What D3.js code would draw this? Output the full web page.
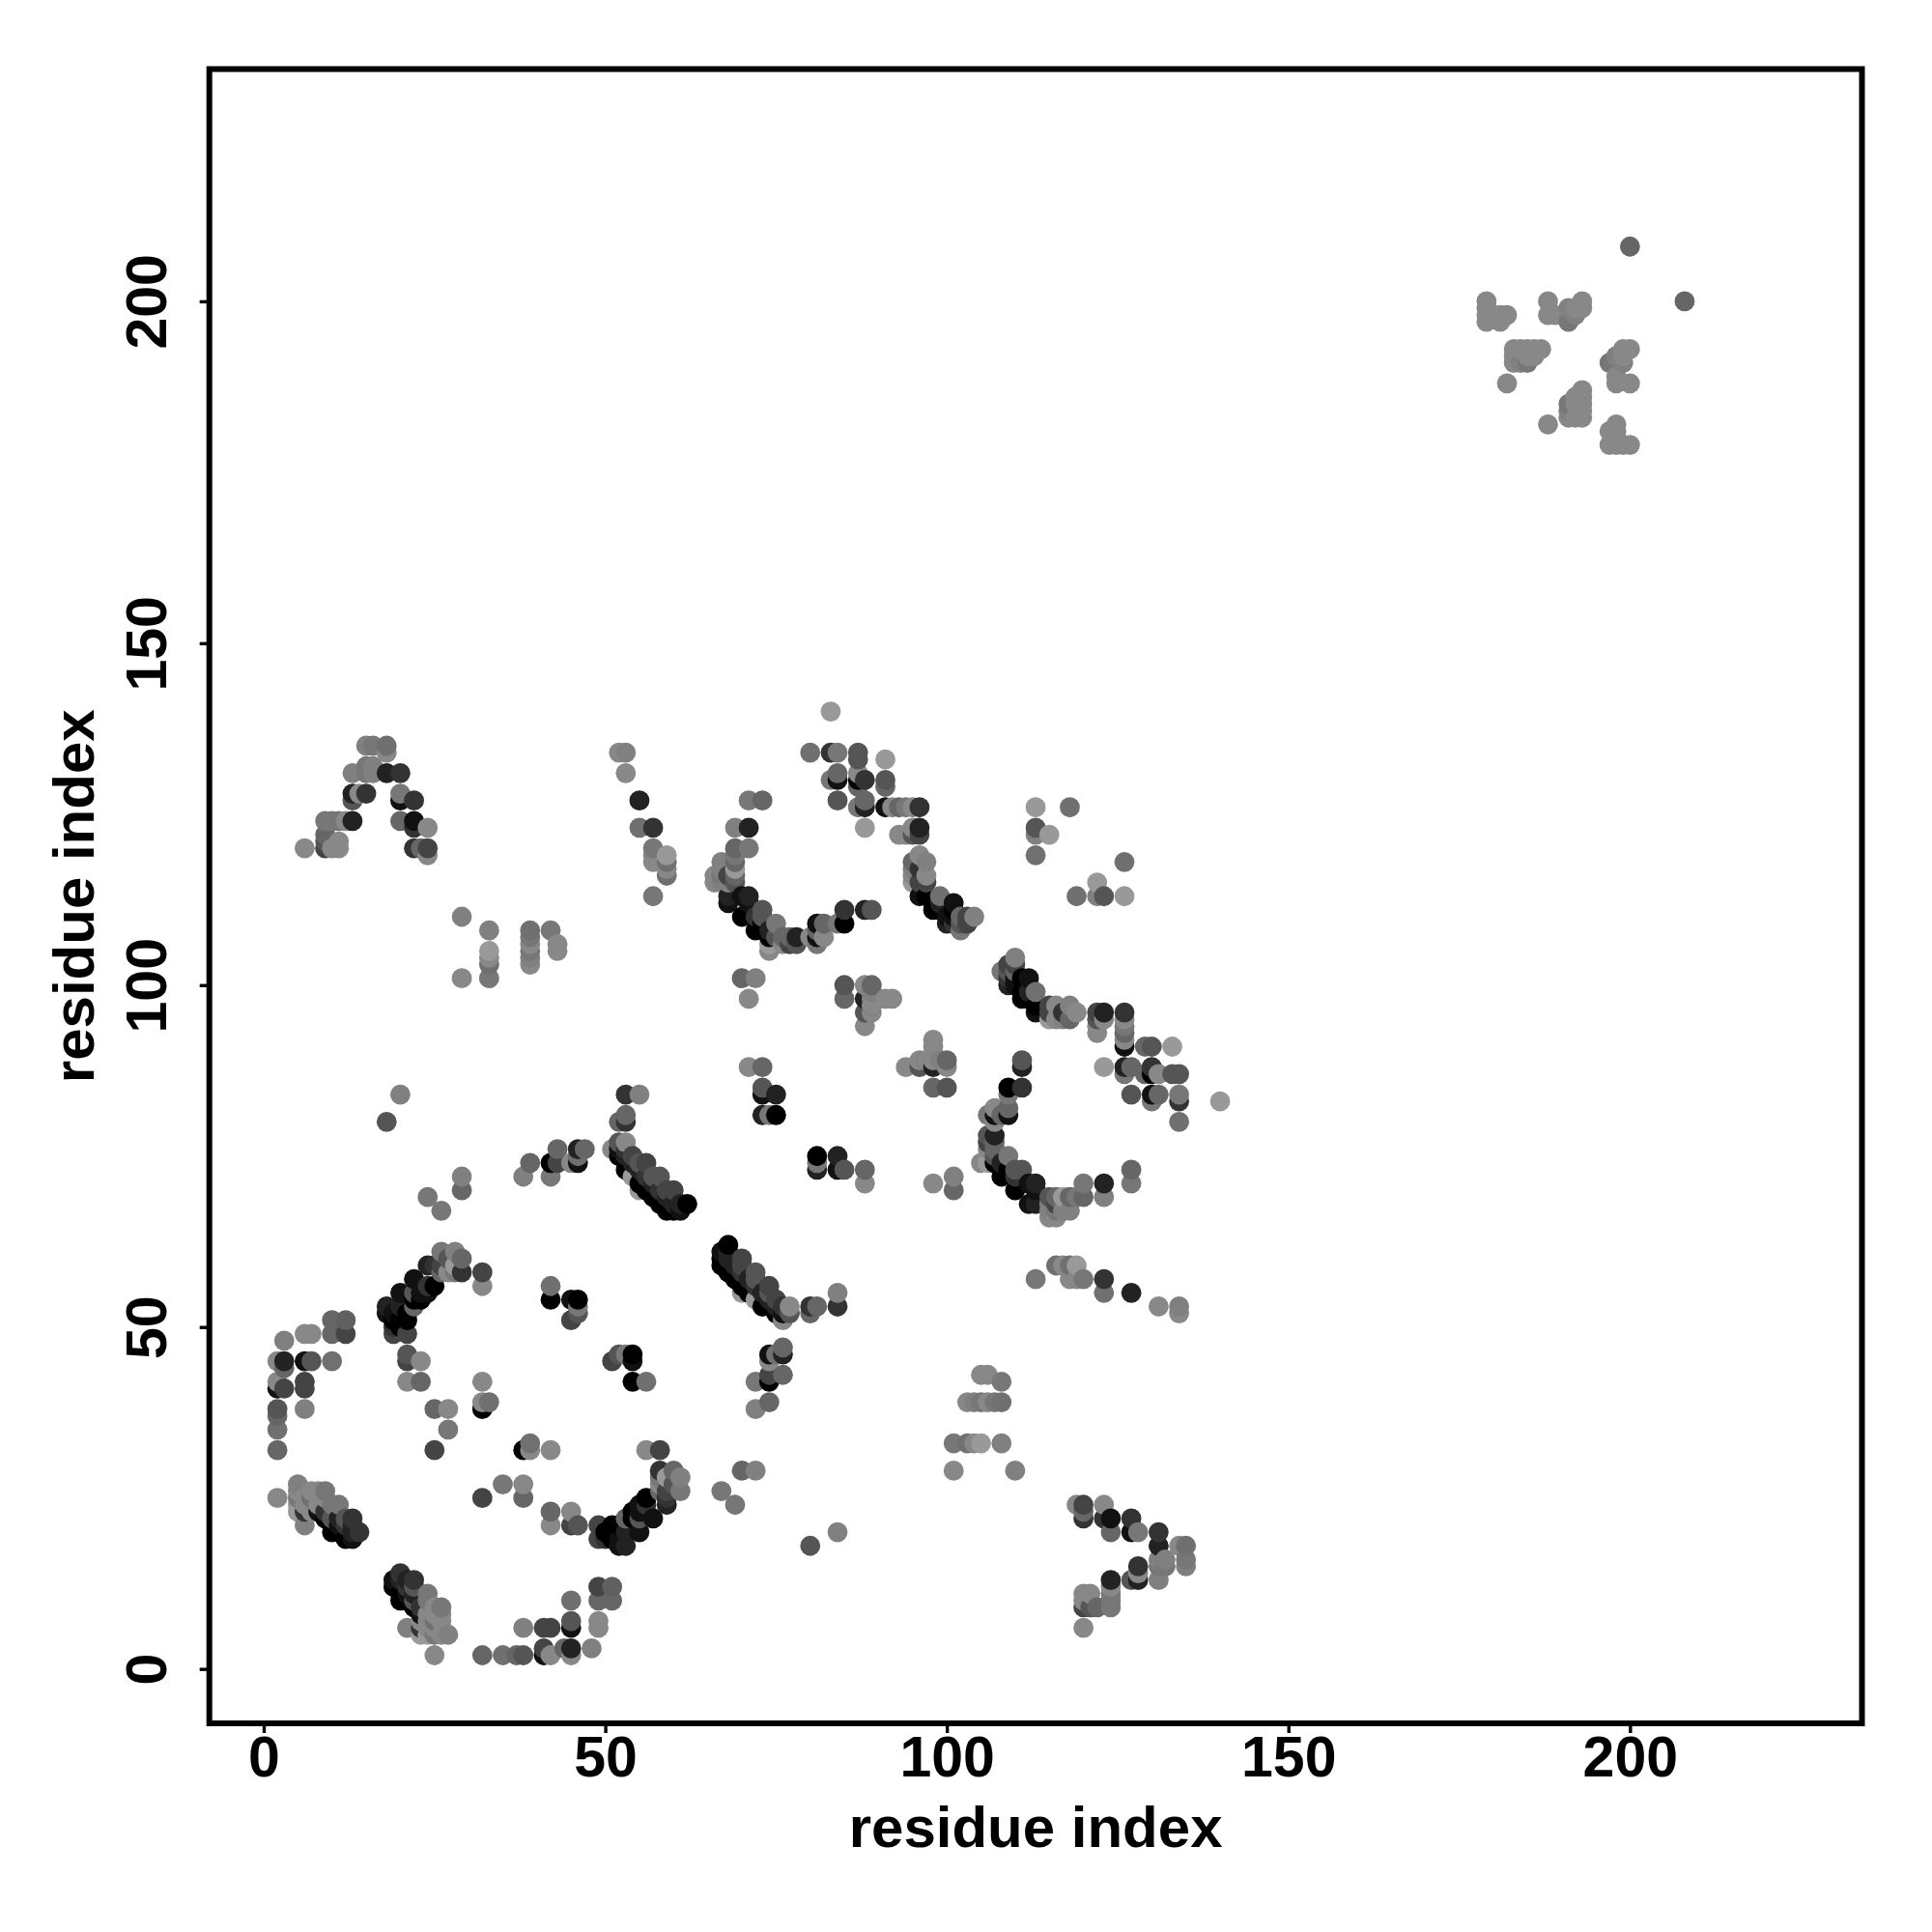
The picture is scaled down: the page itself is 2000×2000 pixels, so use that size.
<!DOCTYPE html>
<html><head><meta charset="utf-8">
<script src="https://cdn.jsdelivr.net/npm/d3@7"></script>
<style>html,body{margin:0;padding:0;background:#fff}svg{display:block}</style>
</head><body><div id="chart"></div>
<script>
// Contacts as [residue i, residue j, grey level]; the map is symmetric.
const tickLabels=[0,50,100,150,200];
const axisLabel="residue index";
const cornerContacts=[[2,25,136],[2,32,102],[2,35,112],[2,37,102],[2,38,85],[2,41,17],[2,42,136],[2,45,136],[3,41,68],[3,44,102],[3,45,34],[3,48,128],[6,38,128],[6,41,68],[6,42,68],[6,45,17],[7,45,85],[10,45,112],[6,49,136],[7,49,136],[10,49,102],[12,49,68],[10,51,102],[12,51,96]];
const strandContacts=[[5,23,153],[5,24,153],[5,25,119],[5,26,136],[5,27,128],[6,21,128],[6,23,51],[6,24,136],[6,25,136],[7,23,136],[7,24,136],[7,25,112],[7,26,136],[8,23,17],[8,24,136],[8,25,136],[8,26,136],[9,22,0],[9,23,51],[9,25,136],[9,26,119],[10,20,0],[10,21,0],[10,22,85],[10,24,119],[11,20,0],[11,21,17],[11,22,34],[11,24,119],[12,19,0],[12,21,51],[12,22,85],[13,19,17],[13,20,34],[13,21,34],[13,22,51],[14,20,51]];
const arcContacts=[[18,53,34],[18,52,17],[19,52,17],[19,50,51],[19,49,68],[19,51,0],[20,55,17],[20,53,34],[20,51,0],[20,50,0],[21,52,0],[21,51,0],[21,49,68],[22,57,17],[22,55,85],[22,54,0],[22,53,102],[23,54,0],[23,55,17],[24,59,34],[24,56,51],[24,55,17],[25,59,51],[25,56,0],[26,61,119],[26,59,68],[26,58,102],[27,60,85],[27,58,136],[28,61,128],[28,59,153],[28,58,119],[29,60,102],[29,58,51],[32,58,68],[32,56,136]];
const innerContacts=[[21,42,136],[21,45,68],[21,46,85],[23,42,102],[23,45,136],[25,32,68],[25,38,102],[27,35,119],[27,38,136],[32,38,0],[32,39,136],[33,39,112],[32,42,136],[42,54,0],[42,56,112],[45,51,68],[45,54,17],[46,52,85],[46,53,119],[46,54,0]];
const midContacts=[[18,80,85],[20,84,128],[24,69,119],[26,67,119],[29,70,102],[29,72,128],[38,72,128],[39,74,102],[42,72,119],[42,74,0],[43,74,68],[43,76,102],[45,74,136],[46,74,17],[46,75,112],[46,76,34],[47,76,102]];
const diagonalOne=[[51,76,136],[52,77,85],[53,77,136],[52,76,17],[53,76,51],[52,75,0],[54,75,68],[53,75,34],[54,74,34],[55,74,85],[56,74,68],[53,73,0],[55,73,34],[54,72,153],[56,72,51],[57,72,85],[58,72,85],[55,71,0],[57,71,34],[55,70,153],[56,70,0],[58,70,51],[59,70,68],[60,70,68],[57,69,0],[59,69,34],[58,68,0],[60,68,34],[61,68,34],[62,68,0],[59,67,0],[60,67,0],[61,67,17],[52,80,102],[53,80,51],[53,81,102],[53,84,51],[55,84,128]];
const farContacts=[[6,120,136],[9,120,68],[10,120,136],[11,120,136],[11,121,136],[9,121,85],[9,122,102],[9,124,119],[10,124,119],[11,124,119],[12,124,136],[13,124,34],[13,127,85],[13,128,34],[14,128,136],[15,128,51],[13,131,128],[15,131,119],[16,131,128],[15,132,119],[16,132,128],[18,131,34],[20,131,51],[15,135,128],[16,135,119],[18,134,136],[18,135,112],[20,127,17],[20,128,119],[22,127,51],[20,124,102],[22,124,17],[22,123,51],[24,123,136],[22,120,51],[23,120,102],[24,120,68],[24,119,136]];
const sheetContacts=[[29,101,136],[29,110,128],[33,101,119],[33,103,112],[33,104,136],[33,105,153],[33,108,128],[39,103,136],[39,104,128],[39,105,119],[39,106,136],[39,107,119],[39,108,112],[42,108,119],[43,105,136],[43,106,136]];
const loopContacts=[[52,134,136],[53,134,128],[53,131,136],[55,127,34],[55,123,112],[57,123,51],[57,113,119],[57,118,136],[57,119,136],[57,120,119],[59,116,112],[59,117,136],[59,118,112],[59,119,153]];
const arcTwoUpper=[[66,115,136],[66,116,136],[67,115,128],[67,116,119],[67,117,128],[67,118,128],[68,112,17],[68,113,34],[68,115,128],[68,116,68],[69,115,85],[69,116,102],[69,117,153],[69,118,102],[69,119,119],[69,120,102],[69,123,128],[70,110,0],[70,113,17],[71,112,17],[71,113,34],[71,120,119],[71,123,34],[71,127,119],[73,127,102]];
const arcTwoLower=[[72,108,0],[72,110,51],[73,109,0],[73,110,85],[73,111,85],[74,105,136],[74,106,153],[74,107,0],[74,108,34],[75,107,85],[75,109,119],[76,106,136],[76,107,102],[77,106,68],[77,107,102],[78,106,85],[78,107,34],[80,107,136],[81,106,119],[81,107,17],[81,108,102],[81,109,17],[82,107,136],[82,109,102],[84,109,119],[85,109,0],[85,111,51],[88,111,34],[89,111,85]];
const blockContacts=[[70,101,102],[72,101,128],[71,98,136],[71,88,136],[73,88,102],[73,85,85],[73,84,17],[75,84,34],[73,81,34],[74,81,119],[75,81,0],[85,98,102],[85,100,85],[88,94,136],[88,96,85],[88,98,34],[88,100,136],[89,96,136],[89,97,68],[89,98,136],[89,99,136],[89,100,102],[91,98,136],[92,98,136],[97,89,136],[99,89,128]];
const topContacts=[[80,134,112],[83,130,119],[83,134,51],[83,140,153],[84,127,85],[84,130,17],[84,131,102],[84,134,119],[87,126,119],[87,129,102],[87,130,0],[87,131,136],[87,133,85],[87,134,85],[88,123,153],[88,126,34],[88,127,102],[88,130,51],[91,126,17],[91,129,102],[91,130,85],[91,133,153],[92,126,136],[93,122,136],[93,126,102],[94,122,136],[94,126,119],[95,122,85],[95,123,136],[95,126,136],[96,122,68],[96,123,34],[96,126,51]];
const helixContacts=[[95,115,153],[95,116,136],[95,117,128],[95,118,102],[96,115,68],[96,117,51],[96,119,136],[97,115,68],[97,116,136],[97,118,128],[96,113,17],[97,113,0],[98,111,0],[98,112,0],[99,111,0],[99,112,34],[99,113,112],[100,109,34],[100,110,17],[101,109,51],[101,110,17],[101,111,0],[101,112,17],[102,108,119],[102,109,85],[102,110,102],[103,109,68],[103,110,68],[104,110,128]];
const sideContacts=[[113,119,112],[113,122,128],[113,123,85],[113,126,153],[115,122,153],[118,126,112]];
const domainContacts=[[179,197,136],[179,198,136],[179,199,136],[179,200,136],[180,198,136],[181,197,136],[181,198,136],[182,188,136],[182,198,136],[183,191,136],[183,192,136],[183,193,136],[184,191,128],[184,193,136],[185,191,119],[185,192,136],[185,193,136],[186,192,136],[186,193,136],[187,193,136],[188,198,136],[188,200,136],[189,198,136],[191,197,119],[191,199,128],[192,198,128],[192,199,136],[193,199,136],[193,200,136],[200,208,102]];

const upperContacts=[].concat(cornerContacts,strandContacts,arcContacts,innerContacts,midContacts,diagonalOne,
  farContacts,sheetContacts,loopContacts,arcTwoUpper,arcTwoLower,blockContacts,topContacts,helixContacts,sideContacts,domainContacts);
const seen=new Map();
upperContacts.forEach(d=>{const k=d[0]+"-"+d[1];if(!seen.has(k))seen.set(k,d);});
const points=[];
seen.forEach(d=>{points.push({x:d[0],y:d[1],g:d[2]});points.push({x:d[1],y:d[0],g:d[2]});});
points.sort((a,b)=>d3.ascending(a.x,b.x)||d3.ascending(a.y,b.y));

const W=2000,H=2000,left=216.7,right=1927.5,top_=71.5,bottom=1784;
const dom=[-7.96,233.96];
const x=d3.scaleLinear().domain(dom).range([left,right]);
const y=d3.scaleLinear().domain(dom).range([bottom,top_]);
const font="'Liberation Sans',Arial,sans-serif";
const svg=d3.select("#chart").append("svg").attr("width",W).attr("height",H).attr("viewBox",[0,0,W,H]);
svg.append("rect").attr("width",W).attr("height",H).attr("fill","#fff");

svg.append("g").selectAll("circle").data(points).join("circle")
  .attr("cx",d=>x(d.x)).attr("cy",d=>y(d.y)).attr("r",10.4)
  .attr("fill",d=>d3.rgb(d.g,d.g,d.g).formatHex());

svg.append("rect").attr("x",left).attr("y",top_).attr("width",right-left).attr("height",bottom-top_)
  .attr("fill","none").attr("stroke","#000").attr("stroke-width",6);

const ax=svg.append("g").attr("transform",`translate(0,${bottom})`)
  .call(d3.axisBottom(x).tickValues(tickLabels).tickFormat(d3.format("d")).tickSize(10).tickPadding(3));
const ay=svg.append("g").attr("transform",`translate(${left},0)`)
  .call(d3.axisLeft(y).tickValues(tickLabels).tickFormat(d3.format("d")).tickSize(10));
[ax,ay].forEach(g=>{g.select(".domain").remove();
  g.selectAll("line").attr("stroke","#000").attr("stroke-width",3.4);
  g.selectAll("text").attr("fill","#000").attr("font-family",font).attr("font-weight","700").attr("font-size",59);});
ay.selectAll("text").attr("dy",null).attr("x",null).attr("y",null)
  .attr("text-anchor","middle").attr("transform",`translate(${172-left},0) rotate(-90)`);
svg.append("text").attr("x",(left+right)/2).attr("y",1912).attr("text-anchor","middle")
  .attr("font-family",font).attr("font-weight","700").attr("font-size",60).text(axisLabel);
svg.append("text").attr("transform",`translate(97,${(top_+bottom)/2}) rotate(-90)`).attr("text-anchor","middle")
  .attr("font-family",font).attr("font-weight","700").attr("font-size",60).text(axisLabel);
</script></body></html>
